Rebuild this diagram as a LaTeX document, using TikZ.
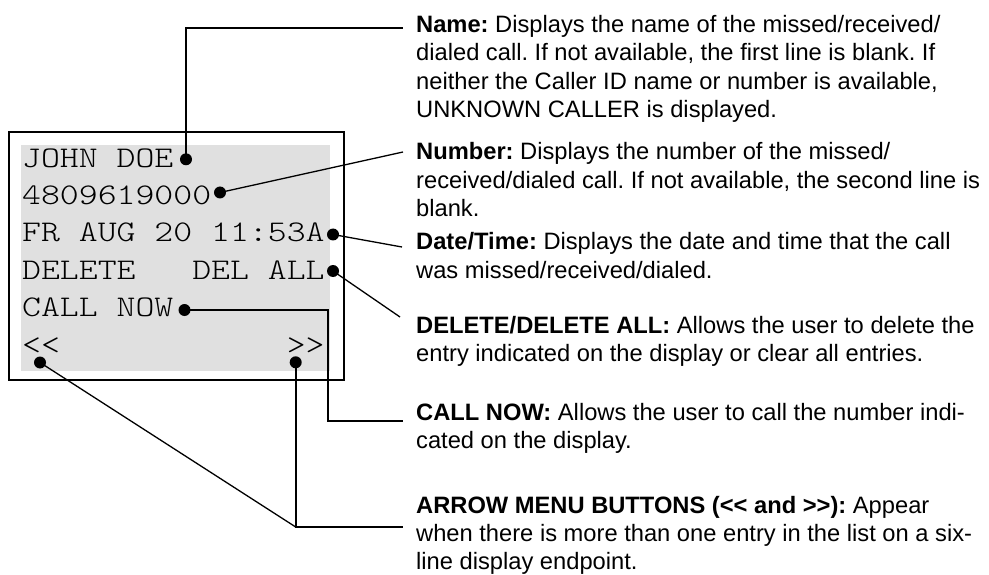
\documentclass[tikz,border=0pt]{standalone}
\usepackage{fontspec}
\setmainfont{Liberation Sans}
\newfontfamily\lcdfont{lmmonolt10-regular.otf}[FakeStretch=1.2]
\definecolor{lcdgray}{RGB}{224,224,224}
\begin{document}
\frenchspacing
\begin{tikzpicture}[x=1pt,y=-1pt,
  leaderdot/.style={circle,fill=black,inner sep=0pt,minimum size=12pt},
  lcdtext/.style={anchor=base west,inner sep=0pt,font=\lcdfont\fontsize{30}{37.4}\selectfont},
  desc/.style={anchor=base west,inner sep=0pt,font=\frenchspacing\fontsize{23.7}{28.3}\selectfont},
  thickline/.style={line width=2pt},
  thinline/.style={line width=1.3pt},
  framebox/.style={line width=2.5pt}]
\useasboundingbox (0,0) rectangle (989,575);

% display
\fill[lcdgray] (21,145) rectangle (330,371);
\draw[framebox] (9,132) rectangle (344,380);

\node[lcdtext] (l1) at (22,167.3) {JOHN DOE};
\node[lcdtext] (l2) at (22,204.7) {4809619000};
\node[lcdtext] (l3) at (22,242) {FR AUG 20 11:53A};
\node[lcdtext] (l4) at (22,279.4) {DELETE~~~DEL~ALL};
\node[lcdtext] (l5) at (22,316.8) {CALL NOW};
\node[lcdtext] (l6a) at (22,354.2) {<{}<};
\node[lcdtext] (l6b) at (286.6,354.2) {>{}>};

% dots
\node[leaderdot] (dname) at (186,159.3) {};
\node[leaderdot] (dnum) at (220,192.5) {};
\node[leaderdot] (ddate) at (333,234.5) {};
\node[leaderdot] (ddel) at (333,271) {};
\node[leaderdot] (dcall) at (184.5,310) {};
\node[leaderdot] (dleft) at (40,362.5) {};
\node[leaderdot] (dright) at (295.7,362.3) {};

% leader ends
\coordinate (nameend) at (403,28);
\coordinate (numend) at (403,152);
\coordinate (dateend) at (402,247);
\coordinate (delend) at (400,317);
\coordinate (callbend) at (327.5,421);
\coordinate (callend) at (403,421);
\coordinate (arrowend) at (403,527);
\coordinate (arrowcorner) at (dright |- arrowend);

% connectors
\draw[thickline] (dname.center) |- (nameend);
\draw[thinline] (dnum.center) -- (numend);
\draw[thinline] (ddate.center) -- (dateend);
\draw[thinline] (ddel.center) -- (delend);
\draw[thickline] (dcall.center) -| (callbend) -- (callend);
\draw[thickline] (dright.center) |- (arrowend);
\draw[thinline] (dleft.center) -- (arrowcorner);

% descriptions
\node[desc] (tname) at (416,32.5) {\begin{tabular}[t]{@{}l@{}}
\textbf{Name:} Displays the name of the missed/received/\\
dialed call. If not available, the first line is blank. If\\
neither the Caller ID name or number is available,\\
UNKNOWN CALLER is displayed.\end{tabular}};
\node[desc] (tnum) at (416,160) {\begin{tabular}[t]{@{}l@{}}
\textbf{Number:} Displays the number of the missed/\\
received/dialed call. If not available, the second line is\\
blank.\end{tabular}};
\node[desc] (tdate) at (416,250) {\begin{tabular}[t]{@{}l@{}}
\textbf{Date/Time:} Displays the date and time that the call\\
was missed/received/dialed.\end{tabular}};
\node[desc] (tdel) at (416,333.3) {\begin{tabular}[t]{@{}l@{}}
\textbf{DELETE/DELETE ALL:} Allows the user to delete the\\
entry indicated on the display or clear all entries.\end{tabular}};
\node[desc] (tcall) at (416,420) {\begin{tabular}[t]{@{}l@{}}
\textbf{CALL NOW:} Allows the user to call the number indi-\\
cated on the display.\end{tabular}};
\node[desc] (tarrow) at (416,513) {\begin{tabular}[t]{@{}l@{}}
\textbf{ARROW MENU BUTTONS (<{}< and >{}>):} Appear\\
when there is more than one entry in the list on a six-\\
line display endpoint.\end{tabular}};
\end{tikzpicture}
\end{document}
